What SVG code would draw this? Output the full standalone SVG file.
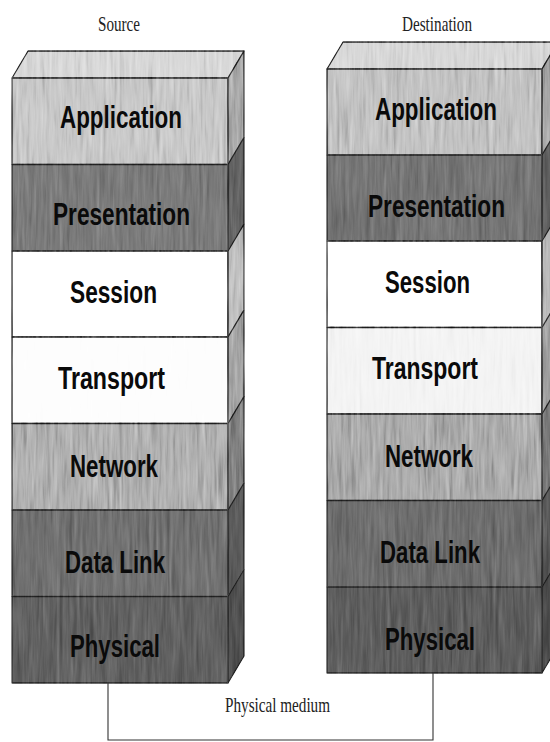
<svg xmlns="http://www.w3.org/2000/svg" width="550" height="742" viewBox="0 0 550 742">
<style>
.face{stroke:#1e1e1e;stroke-width:1.3;stroke-linejoin:round;filter:url(#mottle)}
.soft{filter:url(#mottle2)}
.lbl{font-family:"Liberation Sans",Arial,sans-serif;font-weight:bold;font-size:32px;fill:#0a0a0a;text-anchor:middle}
.cap{font-family:"Liberation Serif","Times New Roman",serif;font-size:22px;fill:#222;text-anchor:middle}
.wire{fill:none;stroke:#333;stroke-width:1.1}
</style>
<defs>
<filter id="mottle" x="-5%" y="-5%" width="110%" height="110%" color-interpolation-filters="sRGB">
<feTurbulence type="fractalNoise" baseFrequency="0.3 0.02" numOctaves="3" seed="4" result="n"/>
<feColorMatrix in="n" type="matrix" values="0.33 0.33 0.33 0 0 0.33 0.33 0.33 0 0 0.33 0.33 0.33 0 0 0 0 0 0 1" result="g"/>
<feComponentTransfer in="g" result="c">
<feFuncR type="linear" slope="1.3" intercept="-0.1"/>
<feFuncG type="linear" slope="1.3" intercept="-0.1"/>
<feFuncB type="linear" slope="1.3" intercept="-0.1"/>
</feComponentTransfer>
<feBlend in="c" in2="SourceGraphic" mode="soft-light" result="b"/>
<feComposite in="b" in2="SourceGraphic" operator="in"/>
</filter>
<filter id="mottle2" x="-5%" y="-5%" width="110%" height="110%" color-interpolation-filters="sRGB">
<feTurbulence type="fractalNoise" baseFrequency="0.3 0.02" numOctaves="3" seed="7" result="n"/>
<feColorMatrix in="n" type="matrix" values="0.33 0.33 0.33 0 0 0.33 0.33 0.33 0 0 0.33 0.33 0.33 0 0 0 0 0 0 1" result="g"/>
<feComponentTransfer in="g" result="c">
<feFuncR type="linear" slope="0.8" intercept="0.15"/>
<feFuncG type="linear" slope="0.8" intercept="0.15"/>
<feFuncB type="linear" slope="0.8" intercept="0.15"/>
</feComponentTransfer>
<feBlend in="c" in2="SourceGraphic" mode="soft-light" result="b"/>
<feComposite in="b" in2="SourceGraphic" operator="in"/>
</filter>
</defs>
<rect width="550" height="742" fill="#ffffff"/>

<text class="cap" x="119" y="31" textLength="42" lengthAdjust="spacingAndGlyphs">Source</text>
<text class="cap" x="437" y="31" textLength="70" lengthAdjust="spacingAndGlyphs">Destination</text>

<g id="src-top"><polygon class="face" fill="#d6d6d6" points="12,78 28,51 244,51 228,78"/></g>
<g id="src-application">
<rect class="face" x="12" y="78" width="216" height="86.5" fill="#c6c6c6"/>
<polygon class="face" fill="#a8a8a8" points="228,78 244,51 244,137.5 228,164.5"/>
<text class="lbl" x="121" y="128" textLength="122" lengthAdjust="spacingAndGlyphs">Application</text>
</g>
<g id="src-presentation">
<rect class="face soft" x="12" y="164.5" width="216" height="86.5" fill="#767676"/>
<polygon class="face soft" fill="#5e5e5e" points="228,164.5 244,137.5 244,224 228,251"/>
<text class="lbl" x="121.5" y="225" textLength="137" lengthAdjust="spacingAndGlyphs">Presentation</text>
</g>
<g id="src-session">
<rect class="face" x="12" y="251" width="216" height="86" fill="#ffffff"/>
<polygon class="face" fill="#bdbdbd" points="228,251 244,224 244,310 228,337"/>
<text class="lbl" x="113.5" y="303" textLength="87" lengthAdjust="spacingAndGlyphs">Session</text>
</g>
<g id="src-transport">
<rect class="face" x="12" y="337" width="216" height="86.5" fill="#fdfdfd"/>
<polygon class="face" fill="#a4a4a4" points="228,337 244,310 244,396.5 228,423.5"/>
<text class="lbl" x="111.5" y="389" textLength="107" lengthAdjust="spacingAndGlyphs">Transport</text>
</g>
<g id="src-network">
<rect class="face" x="12" y="423.5" width="216" height="86.5" fill="#adadad"/>
<polygon class="face" fill="#7e7e7e" points="228,423.5 244,396.5 244,483 228,510"/>
<text class="lbl" x="114" y="477" textLength="88" lengthAdjust="spacingAndGlyphs">Network</text>
</g>
<g id="src-datalink">
<rect class="face soft" x="12" y="510" width="216" height="86.5" fill="#6c6c6c"/>
<polygon class="face soft" fill="#565656" points="228,510 244,483 244,569.5 228,596.5"/>
<text class="lbl" x="115" y="573" textLength="100" lengthAdjust="spacingAndGlyphs">Data Link</text>
</g>
<g id="src-physical">
<rect class="face soft" x="12" y="596.5" width="216" height="86.5" fill="#5c5c5c"/>
<polygon class="face soft" fill="#4a4a4a" points="228,596.5 244,569.5 244,656 228,683"/>
<text class="lbl" x="115" y="657" textLength="90" lengthAdjust="spacingAndGlyphs">Physical</text>
</g>

<g id="dst-top"><polygon class="face" fill="#d6d6d6" points="327,69 343,42 558,42 542,69"/></g>
<g id="dst-application">
<rect class="face" x="327" y="69" width="215" height="86" fill="#c0c0c0"/>
<polygon class="face" fill="#a2a2a2" points="542,69 558,42 558,128 542,155"/>
<text class="lbl" x="436" y="120" textLength="122" lengthAdjust="spacingAndGlyphs">Application</text>
</g>
<g id="dst-presentation">
<rect class="face soft" x="327" y="155" width="215" height="86" fill="#707070"/>
<polygon class="face soft" fill="#5a5a5a" points="542,155 558,128 558,214 542,241"/>
<text class="lbl" x="436.5" y="217" textLength="137" lengthAdjust="spacingAndGlyphs">Presentation</text>
</g>
<g id="dst-session">
<rect class="face" x="327" y="241" width="215" height="86.5" fill="#ffffff"/>
<polygon class="face" fill="#b4b4b4" points="542,241 558,214 558,300.5 542,327.5"/>
<text class="lbl" x="427.5" y="293" textLength="85" lengthAdjust="spacingAndGlyphs">Session</text>
</g>
<g id="dst-transport">
<rect class="face" x="327" y="327.5" width="215" height="86.5" fill="#f3f3f3"/>
<polygon class="face" fill="#9c9c9c" points="542,327.5 558,300.5 558,387 542,414"/>
<text class="lbl" x="425" y="379" textLength="106" lengthAdjust="spacingAndGlyphs">Transport</text>
</g>
<g id="dst-network">
<rect class="face" x="327" y="414" width="215" height="86.5" fill="#a8a8a8"/>
<polygon class="face" fill="#787878" points="542,414 558,387 558,473.5 542,500.5"/>
<text class="lbl" x="429" y="467" textLength="88" lengthAdjust="spacingAndGlyphs">Network</text>
</g>
<g id="dst-datalink">
<rect class="face soft" x="327" y="500.5" width="215" height="86.5" fill="#686868"/>
<polygon class="face soft" fill="#525252" points="542,500.5 558,473.5 558,560 542,587"/>
<text class="lbl" x="430" y="563" textLength="100" lengthAdjust="spacingAndGlyphs">Data Link</text>
</g>
<g id="dst-physical">
<rect class="face soft" x="327" y="587" width="215" height="86" fill="#585858"/>
<polygon class="face soft" fill="#464646" points="542,587 558,560 558,646 542,673"/>
<text class="lbl" x="430" y="650" textLength="90" lengthAdjust="spacingAndGlyphs">Physical</text>
</g>

<g id="connectors">
<polyline class="wire" points="108,683 108,740 433,740 433,673"/>
</g>
<text class="cap" x="277.5" y="712" textLength="105" lengthAdjust="spacingAndGlyphs">Physical medium</text>
</svg>
